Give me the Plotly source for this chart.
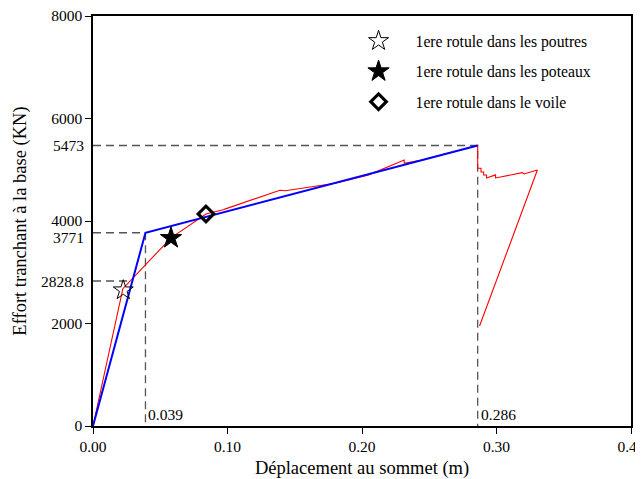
import plotly.graph_objects as go

# Pushover curve (red)
red_x = [0, 0.0222, 0.058, 0.084, 0.0968, 0.098, 0.139, 0.143, 0.180, 0.205, 0.2314, 0.2314, 0.2435, 0.286,
         0.286, 0.2885, 0.2885, 0.2904, 0.2904, 0.2926, 0.2926, 0.2993, 0.2993, 0.3192, 0.3204, 0.3304, 0.2874]
red_y = [0, 2680, 3670, 4137, 4220, 4232, 4600, 4590, 4736, 4900, 5190, 5125, 5185, 5473,
         5030, 5030, 4956, 4956, 4898, 4898, 4840, 4900, 4840, 4943, 4917, 4995, 1950]

# Bilinear idealisation (blue)
blue_x = [0, 0.039, 0.286]
blue_y = [0, 3771, 5473]

# Reference values
x_e, x_u = 0.039, 0.286
y_e, y_u, y_1 = 3771, 5473, 2828.8
x_1 = 0.029

# Hinge events
hinge_names = ["1ere rotule dans les poutres", "1ere rotule dans les poteaux", "1ere rotule dans le voile"]
hinge_x = [0.0225, 0.058, 0.084]
hinge_y = [2650, 3668, 4137]

x_ticks = [0, 0.1, 0.2, 0.3, 0.4]
x_ticklabels = ["0.00", "0.10", "0.20", "0.30", "0.40"]
y_ticks = [0, 2000, 4000, 6000, 8000]
y_ticklabels = ["0", "2000", "4000", "6000", "8000"]
y_marks = [2828.8, 3771, 5473]
y_mark_labels = ["2828.8", "3771", "5473"]
y_mark_shift = [0, -5, 0]

FONT = "Liberation Serif, Times New Roman, serif"
dash_style = dict(color="#555555", width=1.3, dash="8px,5px")

fig = go.Figure()

# dashed guide lines
fig.add_trace(go.Scatter(x=[0, x_u, x_u], y=[y_u, y_u, 0], mode="lines", line=dash_style,
                         showlegend=False, hoverinfo="skip"))
fig.add_trace(go.Scatter(x=[0, x_e, x_e], y=[y_e, y_e, 0], mode="lines", line=dash_style,
                         showlegend=False, hoverinfo="skip"))
fig.add_trace(go.Scatter(x=[0, x_1], y=[y_1, y_1], mode="lines", line=dash_style,
                         showlegend=False, hoverinfo="skip"))

fig.add_trace(go.Scatter(x=red_x, y=red_y, mode="lines", line=dict(color="red", width=1.1),
                         showlegend=False))
fig.add_trace(go.Scatter(x=blue_x, y=blue_y, mode="lines", line=dict(color="blue", width=2),
                         showlegend=False))

symbols = ["star-open", "star", "diamond-open"]
sizes = [15, 16, 12]
lws = [1, 1, 3.2]
for i in range(3):
    fig.add_trace(go.Scatter(
        x=[hinge_x[i]], y=[hinge_y[i]], mode="markers", name=hinge_names[i],
        legendgroup=f"g{i}",
        marker=dict(symbol=symbols[i], size=sizes[i], color="black",
                    line=dict(color="black", width=lws[i]))))

fig.add_annotation(x=x_e, y=0, text="0.039", showarrow=False, xanchor="left", yanchor="bottom",
                   xshift=1, yshift=1, font=dict(family=FONT, size=15.5, color="black"))
fig.add_annotation(x=x_u, y=0, text="0.286", showarrow=False, xanchor="left", yanchor="bottom",
                   xshift=1, yshift=1, font=dict(family=FONT, size=15.5, color="black"))

for v, t, s in zip(y_marks, y_mark_labels, y_mark_shift):
    fig.add_annotation(xref="paper", x=0, y=v, text=t, showarrow=False, xanchor="right",
                       yanchor="middle", xshift=-7, yshift=s,
                       font=dict(family=FONT, size=15.5, color="black"))

fig.update_layout(
    width=635, height=471,
    margin=dict(l=85, r=12, t=8, b=53, autoexpand=False),
    plot_bgcolor="white", paper_bgcolor="white",
    font=dict(family=FONT, size=15.5, color="black"),
    legend=dict(x=0.462, y=0.98, xanchor="left", yanchor="top", bgcolor="rgba(0,0,0,0)",
                font=dict(family=FONT, size=15.7), itemwidth=64, traceorder="grouped",
                tracegroupgap=7),
    showlegend=True,
)
fig.update_xaxes(range=[0, 0.4], tickvals=x_ticks, ticktext=x_ticklabels, showgrid=False, zeroline=False,
                 showline=True, linecolor="black", linewidth=1.5, mirror=True, automargin=False,
                 ticks="outside", ticklen=6, tickcolor="black", ticklabeloverflow="allow",
                 tickfont=dict(size=15.5),
                 title=dict(text="Déplacement au sommet (m)", font=dict(size=18.5), standoff=8))
fig.update_yaxes(range=[0, 8000], tickvals=y_ticks, ticktext=y_ticklabels, showgrid=False, zeroline=False,
                 showline=True, linecolor="black", linewidth=1.5, mirror=True, automargin=False,
                 ticks="outside", ticklen=6, tickcolor="black", tickfont=dict(size=15.5),
                 ticklabeloverflow="allow",
                 title=dict(text="Effort tranchant à la base (KN)", font=dict(size=18.5), standoff=20))

fig.write_html("out.html")
